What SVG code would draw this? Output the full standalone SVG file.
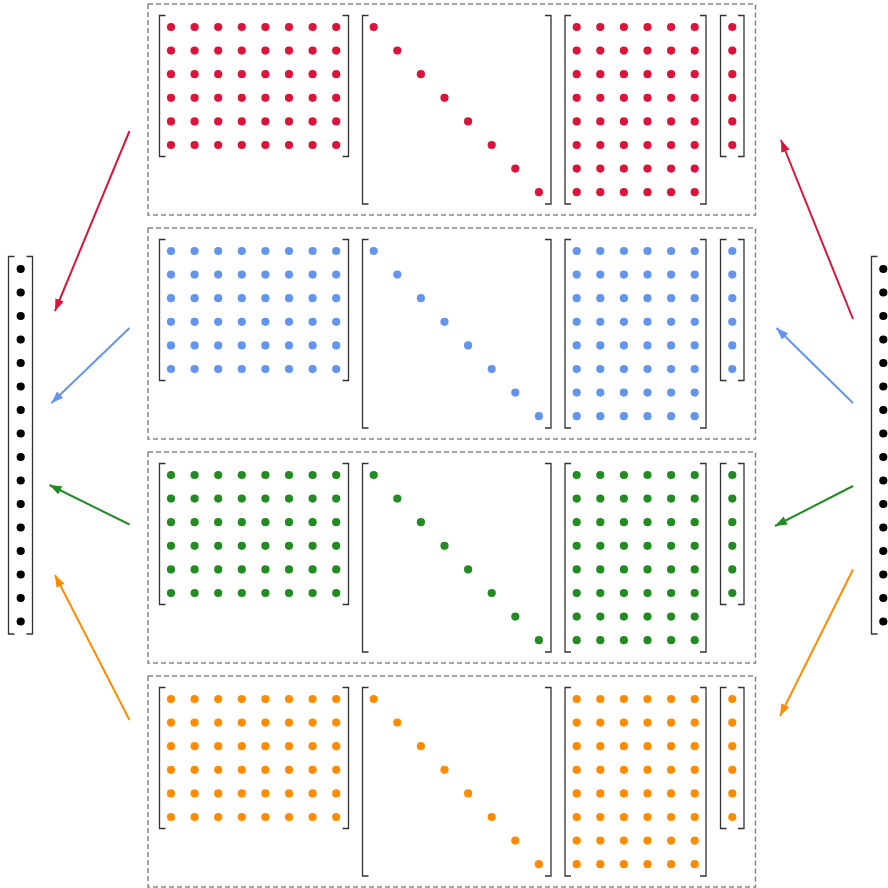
<svg xmlns="http://www.w3.org/2000/svg" xmlns:xlink="http://www.w3.org/1999/xlink" width="888" height="888" viewBox="0 0 888 888">
<style>
.frame{fill:none;stroke:#888;stroke-width:1.5;stroke-dasharray:5,3}
.br{fill:none;stroke:#333;stroke-width:1.3}
.conn{fill:none;stroke-width:2}
</style>
<defs>
<marker id="ah-red" markerUnits="userSpaceOnUse" markerWidth="13" markerHeight="10" refX="12" refY="4.5" orient="auto"><path d="M0,0 L12,4.5 L0,9 z" fill="#DC143C"/></marker>
<marker id="ah-blue" markerUnits="userSpaceOnUse" markerWidth="13" markerHeight="10" refX="12" refY="4.5" orient="auto"><path d="M0,0 L12,4.5 L0,9 z" fill="#6495ED"/></marker>
<marker id="ah-green" markerUnits="userSpaceOnUse" markerWidth="13" markerHeight="10" refX="12" refY="4.5" orient="auto"><path d="M0,0 L12,4.5 L0,9 z" fill="#228B22"/></marker>
<marker id="ah-orange" markerUnits="userSpaceOnUse" markerWidth="13" markerHeight="10" refX="12" refY="4.5" orient="auto"><path d="M0,0 L12,4.5 L0,9 z" fill="#FF8C00"/></marker>
<g id="row8">
<circle cx="0" cy="0" r="4.1"/><circle cx="23.6" cy="0" r="4.1"/><circle cx="47.2" cy="0" r="4.1"/><circle cx="70.8" cy="0" r="4.1"/><circle cx="94.4" cy="0" r="4.1"/><circle cx="118" cy="0" r="4.1"/><circle cx="141.6" cy="0" r="4.1"/><circle cx="165.2" cy="0" r="4.1"/>
</g>
<g id="row6">
<circle cx="0" cy="0" r="4.1"/><circle cx="23.6" cy="0" r="4.1"/><circle cx="47.2" cy="0" r="4.1"/><circle cx="70.8" cy="0" r="4.1"/><circle cx="94.4" cy="0" r="4.1"/><circle cx="118" cy="0" r="4.1"/>
</g>
<g id="content">
<rect class="frame" x="148" y="4" width="607.5" height="211"/>
<path class="br" d="M165.5,15.5 H159.5 V156.5 H165.5"/>
<path class="br" d="M342.5,15.5 H348.5 V156.5 H342.5"/>
<use xlink:href="#row8" href="#row8" x="171" y="27"/>
<use xlink:href="#row8" href="#row8" x="171" y="50.6"/>
<use xlink:href="#row8" href="#row8" x="171" y="74.2"/>
<use xlink:href="#row8" href="#row8" x="171" y="97.8"/>
<use xlink:href="#row8" href="#row8" x="171" y="121.4"/>
<use xlink:href="#row8" href="#row8" x="171" y="145"/>
<path class="br" d="M368.5,15.5 H362.5 V204 H368.5"/>
<path class="br" d="M545,15.5 H551 V204 H545"/>
<circle cx="373.7" cy="27" r="4.1"/><circle cx="397.3" cy="50.6" r="4.1"/><circle cx="420.9" cy="74.2" r="4.1"/><circle cx="444.5" cy="97.8" r="4.1"/><circle cx="468.1" cy="121.4" r="4.1"/><circle cx="491.7" cy="145" r="4.1"/><circle cx="515.3" cy="168.6" r="4.1"/><circle cx="538.9" cy="192.2" r="4.1"/>
<path class="br" d="M571,15.5 H565 V204 H571"/>
<path class="br" d="M700,15.5 H706 V204 H700"/>
<use xlink:href="#row6" href="#row6" x="576.7" y="27"/>
<use xlink:href="#row6" href="#row6" x="576.7" y="50.6"/>
<use xlink:href="#row6" href="#row6" x="576.7" y="74.2"/>
<use xlink:href="#row6" href="#row6" x="576.7" y="97.8"/>
<use xlink:href="#row6" href="#row6" x="576.7" y="121.4"/>
<use xlink:href="#row6" href="#row6" x="576.7" y="145"/>
<use xlink:href="#row6" href="#row6" x="576.7" y="168.6"/>
<use xlink:href="#row6" href="#row6" x="576.7" y="192.2"/>
<path class="br" d="M726.5,15.5 H720.5 V156.5 H726.5"/>
<path class="br" d="M738,15.5 H744 V156.5 H738"/>
<circle cx="732.3" cy="27" r="4.1"/><circle cx="732.3" cy="50.6" r="4.1"/><circle cx="732.3" cy="74.2" r="4.1"/><circle cx="732.3" cy="97.8" r="4.1"/><circle cx="732.3" cy="121.4" r="4.1"/><circle cx="732.3" cy="145" r="4.1"/>
</g>
<g id="col16">
<circle cx="0" cy="269" r="4.1"/><circle cx="0" cy="292.5" r="4.1"/><circle cx="0" cy="316" r="4.1"/><circle cx="0" cy="339.5" r="4.1"/><circle cx="0" cy="363" r="4.1"/><circle cx="0" cy="386.5" r="4.1"/><circle cx="0" cy="410" r="4.1"/><circle cx="0" cy="433.5" r="4.1"/><circle cx="0" cy="457" r="4.1"/><circle cx="0" cy="480.5" r="4.1"/><circle cx="0" cy="504" r="4.1"/><circle cx="0" cy="527.5" r="4.1"/><circle cx="0" cy="551" r="4.1"/><circle cx="0" cy="574.5" r="4.1"/><circle cx="0" cy="598" r="4.1"/><circle cx="0" cy="621.5" r="4.1"/>
</g>
</defs>
<rect width="888" height="888" fill="#fff"/>
<g id="panel-red" fill="#DC143C"><use xlink:href="#content" href="#content" y="0"/></g>
<g id="panel-blue" fill="#6495ED"><use xlink:href="#content" href="#content" y="224"/></g>
<g id="panel-green" fill="#228B22"><use xlink:href="#content" href="#content" y="448"/></g>
<g id="panel-orange" fill="#FF8C00"><use xlink:href="#content" href="#content" y="672"/></g>
<g id="vector-left" fill="#000">
<path class="br" d="M14.5,256.5 H8.5 V634 H14.5"/>
<path class="br" d="M26.5,256.5 H32.5 V634 H26.5"/>
<use xlink:href="#col16" href="#col16" x="20.7"/>
</g>
<g id="vector-right" fill="#000">
<path class="br" d="M877.5,256.5 H871.5 V634 H877.5"/>
<path class="br" d="M889.5,256.5 H895.5 V634 H889.5"/>
<use xlink:href="#col16" href="#col16" x="883.3"/>
</g>
<g id="connectors">
<line class="conn" stroke="#DC143C" x1="129.5" y1="131" x2="55" y2="311" marker-end="url(#ah-red)"/>
<line class="conn" stroke="#6495ED" x1="129.5" y1="328" x2="51.5" y2="403" marker-end="url(#ah-blue)"/>
<line class="conn" stroke="#228B22" x1="129.5" y1="524.5" x2="49.5" y2="485" marker-end="url(#ah-green)"/>
<line class="conn" stroke="#FF8C00" x1="129.5" y1="720" x2="55" y2="575" marker-end="url(#ah-orange)"/>
<line class="conn" stroke="#DC143C" x1="853" y1="319" x2="781" y2="140" marker-end="url(#ah-red)"/>
<line class="conn" stroke="#6495ED" x1="853" y1="403" x2="776.5" y2="328" marker-end="url(#ah-blue)"/>
<line class="conn" stroke="#228B22" x1="853" y1="486" x2="775" y2="526" marker-end="url(#ah-green)"/>
<line class="conn" stroke="#FF8C00" x1="853" y1="569.5" x2="780" y2="716" marker-end="url(#ah-orange)"/>
</g>
</svg>
